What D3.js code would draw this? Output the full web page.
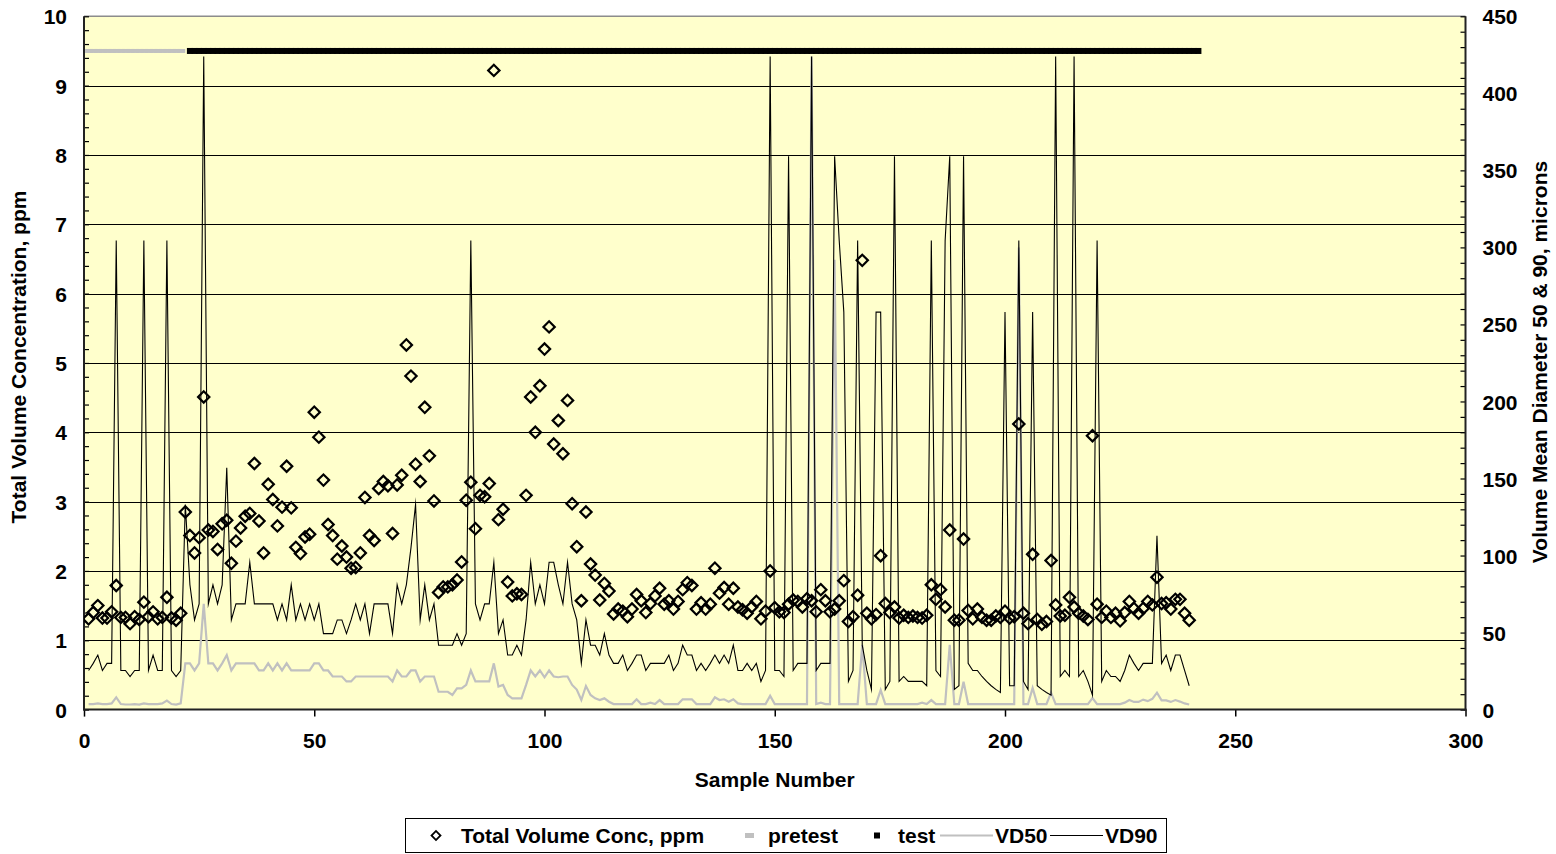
<!DOCTYPE html>
<html>
<head>
<meta charset="utf-8">
<script src="https://cdn.jsdelivr.net/npm/d3@7"></script>
<style>
  body { margin: 0; background: #ffffff; }
  svg text { font-family: "Liberation Sans", Arial, sans-serif; font-weight: bold; fill: #000; }
</style>
</head>
<body>
<svg id="chart" width="1556" height="854"></svg>
<script>
// Sample numbers 1..240
const sampleNumbers = d3.range(1, 241);

// Total volume concentration, ppm (left axis)
const totalConc = [
  1.31,1.40,1.50,1.32,1.32,1.41,1.79,1.33,1.33,1.24,
  1.34,1.30,1.55,1.34,1.41,1.31,1.33,1.62,1.32,1.29,
  1.39,2.85,2.51,2.26,2.48,4.51,2.59,2.57,2.31,2.68,
  2.73,2.11,2.43,2.62,2.79,2.83,3.55,2.72,2.26,3.25,
  3.03,2.65,2.92,3.51,2.91,2.34,2.25,2.49,2.53,4.29,
  3.93,3.31,2.67,2.51,2.17,2.36,2.20,2.04,2.05,2.26,
  3.06,2.51,2.44,3.19,3.29,3.23,2.54,3.24,3.38,5.26,
  4.81,3.54,3.29,4.36,3.66,3.01,1.69,1.77,1.77,1.80,
  1.87,2.13,3.02,3.28,2.61,3.09,3.07,3.26,9.22,2.74,
  2.89,1.84,1.64,1.67,1.66,3.09,4.51,4.00,4.67,5.20,
  5.52,3.83,4.17,3.69,4.46,2.97,2.35,1.57,2.85,2.10,
  1.94,1.58,1.82,1.71,1.38,1.45,1.42,1.34,1.45,1.66,
  1.57,1.40,1.53,1.64,1.75,1.52,1.57,1.45,1.56,1.73,
  1.83,1.79,1.45,1.54,1.45,1.52,2.04,1.68,1.76,1.52,
  1.75,1.48,1.44,1.39,1.48,1.56,1.31,1.42,2.00,1.47,
  1.41,1.40,1.52,1.58,1.56,1.48,1.60,1.57,1.41,1.73,
  1.57,1.41,1.45,1.57,1.86,1.27,1.34,1.65,6.48,1.39,
  1.31,1.37,2.22,1.53,1.40,1.48,1.32,1.36,1.33,1.35,
  1.33,1.32,1.36,1.80,1.59,1.73,1.48,2.59,1.29,1.29,
  2.46,1.43,1.31,1.45,1.33,1.29,1.29,1.35,1.33,1.42,
  1.32,1.34,4.12,1.39,1.24,2.24,1.30,1.23,1.27,2.15,
  1.51,1.35,1.36,1.62,1.48,1.39,1.35,1.30,3.95,1.52,
  1.33,1.42,1.33,1.39,1.28,1.40,1.56,1.46,1.39,1.46,
  1.56,1.51,1.91,1.53,1.54,1.45,1.59,1.59,1.39,1.29
];

// Volume median diameter VD50, microns (right axis)
const vd50 = [
  3.6,3.6,4.0,3.6,3.6,4.0,8.0,3.6,3.3,3.3,
  3.6,3.3,4.0,3.6,3.6,3.6,4.0,5.8,3.6,3.3,
  4.1,30,30,25.4,30,68.6,30,30,25.4,30,
  35.4,25.4,30,30,30,30,30,25.4,25.4,30,
  25.4,30,25.4,30,25.4,25.4,25.4,25.4,25.4,30,
  30,25.4,25.4,21.5,21.5,21.5,18.3,18.3,21.5,21.5,
  21.5,21.5,21.5,21.5,21.5,21.5,18.3,25.4,21.5,21.5,
  25.4,25.4,18.3,21.5,21.5,21.5,11.6,11.6,11.6,9.5,
  13.8,13.8,16,25.4,18.3,18.3,18.3,18.3,30,15,
  16,9.5,7.3,7.3,7.3,16,25.4,21.5,25.4,21,
  25.4,21.5,21,21.5,21.5,16,13,6.2,15.3,9.5,
  7.3,6.2,7.3,5.1,3.6,3.6,3.6,3.6,3.6,6.7,
  3.6,3.6,4.5,3.6,6.2,3.6,3.6,3.6,3.6,6.7,
  6.7,6.7,3.6,3.6,3.6,3.6,8.0,6.2,6.7,5.1,
  6.7,4.0,3.6,3.6,3.6,3.6,3.6,3.6,9.0,3.6,
  3.6,3.6,3.6,3.6,3.6,3.6,3.6,423.9,3.6,4.5,
  3.6,3.6,292,3.6,3.6,3.6,3.6,3.6,42,3.6,
  3.6,3.6,12.7,3.6,3.6,3.6,3.6,3.6,3.6,3.6,
  3.6,4.5,3.6,6.2,3.6,3.6,3.6,42,3.6,3.6,
  18.1,3.6,3.6,3.6,3.6,3.6,3.6,3.6,3.6,3.6,
  3.6,3.6,300,3.6,3.6,14,3.6,3.6,3.6,11,
  3.6,3.6,3.6,3.6,3.6,3.6,3.6,3.6,7.5,3.6,
  3.6,3.6,3.6,3.6,3.6,4.5,6.2,5,5,6.5,
  5.5,7,11,6,6,5,6.2,5.2,4,3.3
];

// Volume diameter VD90, microns (right axis)
const vd90 = [
  25.4,30,35.4,25.4,30,30,304.4,25.4,25.4,21.5,
  25.4,25.4,304.4,25.4,35.4,25.4,25.4,304.4,25.4,21.5,
  25.4,133.1,81,58.2,68.6,423.9,68.6,81,68.6,81,
  157,58.2,68.6,68.6,68.6,95.6,68.6,68.6,68.6,68.6,
  68.6,58.2,68.6,58.2,81,58.2,68.6,58.2,68.6,58.2,
  68.6,49.3,49.3,49.3,58.2,58.2,49.3,58.2,68.6,58.2,
  68.6,49.3,68.6,68.6,68.6,68.6,49.3,81,68.6,81,
  105,133.1,58.2,81,58.2,68.6,41.8,41.8,41.8,41.8,
  49.3,41.8,49.3,304.4,68.6,58.2,68.6,68.6,95.6,49.3,
  58.2,35.4,35.4,41.8,35.4,58.2,95.6,68.6,81,68.6,
  95.6,95.6,81,68.6,95.6,68.6,58.2,30,58.2,41.8,
  41.8,35.4,49.3,35.4,30,30,35.4,25.4,30,35.4,
  35.4,25.4,30,30,30,30,35.4,25.4,30,41.8,
  35.4,35.4,25.4,30,25.4,30,35.4,30,35.4,30,
  41.8,25.4,25.4,30,25.4,30,18.3,25.4,423.9,25.4,
  25.4,21.5,359.2,25.4,30,30,30,423.9,25.4,30,
  30,30,359.2,304.4,258,18.3,25.4,304.4,41.8,25.4,
  13.1,258,258,13.1,18.3,359.2,18.3,21.5,18.3,18.3,
  18.3,18.3,15.5,304.4,25.4,21.5,304.4,359.2,13.1,15.5,
  359.2,30,25.4,25.4,21.5,18.3,15.5,13.1,11.1,258,
  15.5,15.5,304.4,18.3,13.1,258,15.5,13.1,11.1,9.4,
  423.9,21.5,25.4,21.5,423.9,21.5,25.4,18.3,9.4,304.4,
  18.3,25.4,21.5,21.5,18.3,25.4,35.4,30,25.4,30,
  30,30,112.8,30,35.4,25.4,35.4,35.4,25.4,15.5
];

// Run phases shown as a band near the top of the plot
const pretestSamples = d3.range(1, 22);
const testSamples = d3.range(23, 243);
const phaseLevel = 9.5;

// Axis ticks
const xTickValues = [0, 50, 100, 150, 200, 250, 300];
const leftTickValues = d3.range(0, 11);
const rightTickValues = d3.range(0, 451, 50);

// Layout
const plot = { left: 84, right: 1465.5, top: 16.3, bottom: 709.6 };
const FONT = 21;

const svg = d3.select("#chart");

const x = d3.scaleLinear().domain([0, 300]).range([plot.left, plot.right]);
const yL = d3.scaleLinear().domain([0, 10]).range([plot.bottom, plot.top]);
const yR = d3.scaleLinear().domain([0, 450]).range([plot.bottom, plot.top]);

// Plot background
svg.append("rect")
  .attr("x", plot.left).attr("y", plot.top)
  .attr("width", plot.right - plot.left).attr("height", plot.bottom - plot.top)
  .attr("fill", "#FFFFCC");

// Horizontal gridlines from the left axis
svg.append("g")
  .selectAll("line")
  .data(leftTickValues.filter(v => v > 0 && v < 10))
  .join("line")
  .attr("x1", plot.left).attr("x2", plot.right)
  .attr("y1", d => Math.round(yL(d)) + 0.5).attr("y2", d => Math.round(yL(d)) + 0.5)
  .attr("stroke", "#000").attr("stroke-width", 1);

// Top frame line
svg.append("line")
  .attr("x1", plot.left).attr("x2", plot.right)
  .attr("y1", plot.top).attr("y2", plot.top)
  .attr("stroke", "#8c8c8c").attr("stroke-width", 1.5);

// Left axis: minor inner ticks every 0.2 ppm
const leftMinor = svg.append("g")
  .attr("transform", `translate(${plot.left},0)`)
  .call(d3.axisRight(yL).tickValues(d3.range(0, 10.001, 0.2)).tickSize(5).tickFormat(""));
leftMinor.select(".domain").remove();
leftMinor.selectAll("line").attr("stroke", "#000").attr("stroke-width", 1.2);

// Left axis labels
const leftAxis = svg.append("g")
  .attr("transform", `translate(${plot.left},0)`)
  .call(d3.axisLeft(yL).tickValues(leftTickValues).tickSize(0).tickPadding(17).tickFormat(d3.format("d")));
leftAxis.select(".domain").remove();
leftAxis.selectAll("text")
  .attr("font-size", FONT).attr("dy", "0.36em")
  .style("font-family", "Liberation Sans, Arial, sans-serif").style("font-weight", "bold");

// Right axis: inner ticks every 10 microns
const rightMinor = svg.append("g")
  .attr("transform", `translate(${plot.right},0)`)
  .call(d3.axisLeft(yR).tickValues(d3.range(0, 450.001, 10)).tickSize(5).tickFormat(""));
rightMinor.select(".domain").remove();
rightMinor.selectAll("line").attr("stroke", "#000").attr("stroke-width", 1.2);

const rightAxis = svg.append("g")
  .attr("transform", `translate(${plot.right},0)`)
  .call(d3.axisRight(yR).tickValues(rightTickValues).tickSize(0).tickPadding(17).tickFormat(d3.format("d")));
rightAxis.select(".domain").remove();
rightAxis.selectAll("text")
  .attr("font-size", FONT).attr("dy", "0.36em")
  .style("font-family", "Liberation Sans, Arial, sans-serif").style("font-weight", "bold");

// Bottom axis
const bottomAxis = svg.append("g")
  .attr("transform", `translate(0,${plot.bottom})`)
  .call(d3.axisBottom(x).tickValues(xTickValues).tickSize(7).tickPadding(16).tickFormat(d3.format("d")));
bottomAxis.select(".domain").remove();
bottomAxis.selectAll("line").attr("stroke", "#000").attr("stroke-width", 1.5);
bottomAxis.selectAll("text")
  .attr("font-size", FONT).attr("dy", "0.71em")
  .style("font-family", "Liberation Sans, Arial, sans-serif").style("font-weight", "bold");

// Axis lines
svg.append("line")
  .attr("x1", plot.left).attr("x2", plot.left).attr("y1", plot.top).attr("y2", plot.bottom + 1)
  .attr("stroke", "#222").attr("stroke-width", 2);
svg.append("line")
  .attr("x1", plot.right).attr("x2", plot.right).attr("y1", plot.top).attr("y2", plot.bottom + 1)
  .attr("stroke", "#222").attr("stroke-width", 2);
svg.append("line")
  .attr("x1", plot.left - 1).attr("x2", plot.right + 1).attr("y1", plot.bottom).attr("y2", plot.bottom)
  .attr("stroke", "#222").attr("stroke-width", 2);

// Series data joined to sample numbers
const concData = sampleNumbers.map((s, i) => ({ s, v: totalConc[i] }));
const vd50Data = sampleNumbers.map((s, i) => ({ s, v: vd50[i] }));
const vd90Data = sampleNumbers.map((s, i) => ({ s, v: vd90[i] }));

svg.append("clipPath").attr("id", "plotClip")
  .append("rect")
  .attr("x", plot.left).attr("y", plot.top - 2)
  .attr("width", plot.right - plot.left).attr("height", plot.bottom - plot.top + 2);

const marks = svg.append("g").attr("clip-path", "url(#plotClip)");

const lineR = d3.line().x(d => x(d.s)).y(d => yR(d.v));

// VD50 (grey) and VD90 (black)
marks.append("path")
  .datum(vd50Data)
  .attr("d", lineR)
  .attr("fill", "none").attr("stroke", "#C0C0C0").attr("stroke-width", 2.2)
  .attr("stroke-linejoin", "miter");

marks.append("path")
  .datum(vd90Data)
  .attr("d", lineR)
  .attr("fill", "none").attr("stroke", "#000").attr("stroke-width", 1.1)
  .attr("stroke-linejoin", "miter").attr("stroke-miterlimit", 20);

// Total volume concentration: hollow diamonds
const diamond = d3.symbol().type(d3.symbolSquare).size(64);
marks.append("g")
  .selectAll("path")
  .data(concData)
  .join("path")
  .attr("d", diamond)
  .attr("transform", d => `translate(${x(d.s)},${yL(d.v)}) rotate(45)`)
  .attr("fill", "none").attr("stroke", "#000").attr("stroke-width", 2.2);

// Pretest / test phase band
marks.append("g")
  .selectAll("rect")
  .data(pretestSamples)
  .join("rect")
  .attr("x", d => x(d) - 3.5).attr("y", yL(phaseLevel) - 2)
  .attr("width", 8).attr("height", 4)
  .attr("fill", "#C0C0C0");

marks.append("g")
  .selectAll("rect")
  .data(testSamples)
  .join("rect")
  .attr("x", d => x(d) - 3).attr("y", yL(phaseLevel) - 3)
  .attr("width", 6).attr("height", 6)
  .attr("fill", "#000");

// Axis titles
svg.append("text")
  .attr("transform", `translate(26,357) rotate(-90)`)
  .attr("text-anchor", "middle").attr("font-size", FONT)
  .text("Total Volume Concentration, ppm");

svg.append("text")
  .attr("transform", `translate(1547,362) rotate(-90)`)
  .attr("text-anchor", "middle").attr("font-size", FONT)
  .text("Volume Mean Diameter 50 & 90, microns");

svg.append("text")
  .attr("x", (plot.left + plot.right) / 2).attr("y", 787)
  .attr("text-anchor", "middle").attr("font-size", FONT)
  .text("Sample Number");

// Legend
const legend = svg.append("g");
legend.append("rect")
  .attr("x", 405.5).attr("y", 818.5).attr("width", 761).attr("height", 34)
  .attr("fill", "#fff").attr("stroke", "#000").attr("stroke-width", 1);

const ly = 835.5;
const textY = 843;
legend.append("path")
  .attr("d", d3.symbol().type(d3.symbolSquare).size(40)())
  .attr("transform", `translate(436,${ly}) rotate(45)`)
  .attr("fill", "none").attr("stroke", "#000").attr("stroke-width", 1.8);
legend.append("text").attr("x", 461).attr("y", textY).attr("font-size", FONT).text("Total Volume Conc, ppm");

legend.append("rect").attr("x", 745).attr("y", ly - 2.5).attr("width", 9).attr("height", 5).attr("fill", "#C0C0C0");
legend.append("text").attr("x", 768).attr("y", textY).attr("font-size", FONT).text("pretest");

legend.append("rect").attr("x", 874).attr("y", ly - 3).attr("width", 6).attr("height", 6).attr("fill", "#000");
legend.append("text").attr("x", 898).attr("y", textY).attr("font-size", FONT).text("test");

legend.append("line").attr("x1", 940).attr("x2", 993).attr("y1", ly).attr("y2", ly)
  .attr("stroke", "#C0C0C0").attr("stroke-width", 2);
legend.append("text").attr("x", 995).attr("y", textY).attr("font-size", FONT).text("VD50");

legend.append("line").attr("x1", 1050).attr("x2", 1103).attr("y1", ly).attr("y2", ly)
  .attr("stroke", "#000").attr("stroke-width", 1.2);
legend.append("text").attr("x", 1105).attr("y", textY).attr("font-size", FONT).text("VD90");
</script>
</body>
</html>
